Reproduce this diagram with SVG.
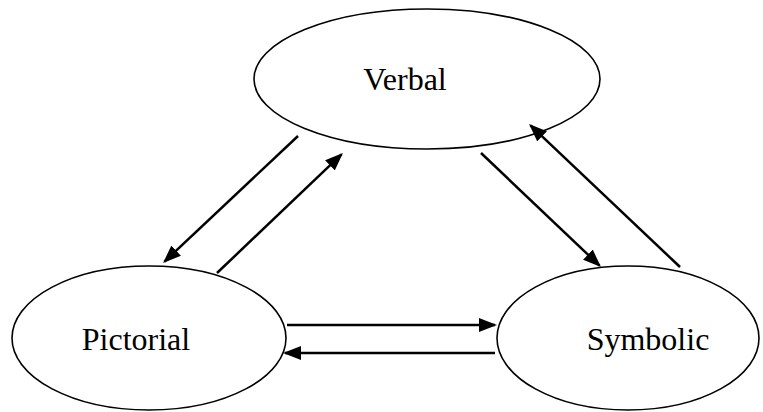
<svg xmlns="http://www.w3.org/2000/svg" width="763" height="412" viewBox="0 0 763 412">
<style>
.node ellipse{fill:#fff;stroke:#000;stroke-width:1.6}
.node text{font-family:"Liberation Serif","Times New Roman",serif;font-size:32px;fill:#000;text-anchor:middle}
.conn line{stroke:#000;stroke-width:2.5;marker-end:url(#ah)}
</style>
<defs>
<marker id="ah" viewBox="0 0 18 14" refX="16" refY="7" markerWidth="18" markerHeight="14" markerUnits="userSpaceOnUse" orient="auto">
<path d="M0,0 L18,7 L0,14 z" fill="#000"/>
</marker>
</defs>
<rect width="763" height="412" fill="#fff"/>
<g id="verbal" class="node">
<ellipse cx="427" cy="79" rx="173" ry="70"/>
<text x="405" y="90">Verbal</text>
</g>
<g id="pictorial" class="node">
<ellipse cx="149" cy="338" rx="137" ry="72"/>
<text x="136" y="350">Pictorial</text>
</g>
<g id="symbolic" class="node">
<ellipse cx="628" cy="338" rx="131" ry="72"/>
<text x="648" y="350">Symbolic</text>
</g>
<g id="connectors" class="conn">
<line x1="298" y1="136" x2="164.5" y2="261.6"/>
<line x1="217" y1="273" x2="341.5" y2="154.4"/>
<line x1="481" y1="153" x2="599.5" y2="265.6"/>
<line x1="680" y1="267" x2="530.5" y2="125.4"/>
<line x1="287" y1="325" x2="495" y2="325"/>
<line x1="495" y1="353" x2="285" y2="353"/>
</g>
</svg>
